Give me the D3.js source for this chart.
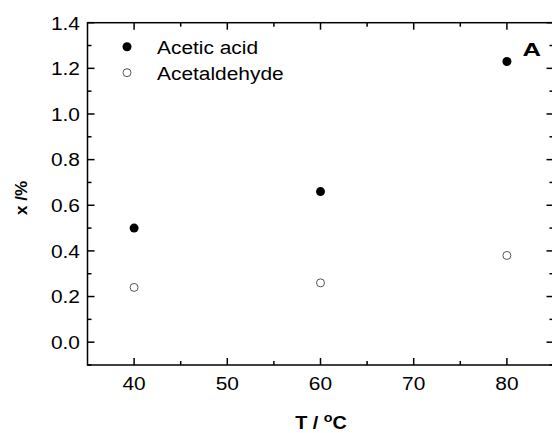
<!DOCTYPE html>
<html><head><meta charset="utf-8">
<script src="https://cdn.jsdelivr.net/npm/d3@7"></script>
<style>body{margin:0;background:#fff}svg{display:block;font-family:Arial,"Liberation Sans",sans-serif}</style>
</head><body><svg id="c" width="552" height="433"></svg>
<script>
const temps = [40, 60, 80];
const aceticAcid = [0.50, 0.66, 1.23];
const acetaldehyde = [0.24, 0.26, 0.38];
const xTicks = [40, 50, 60, 70, 80];
const yTicks = [0.0, 0.2, 0.4, 0.6, 0.8, 1.0, 1.2, 1.4];
const seriesNames = ["Acetic acid", "Acetaldehyde"];

const svg = d3.select("#c");
const x = d3.scaleLinear().domain([35, 85]).range([87.5, 553.5]);
const y = d3.scaleLinear().domain([-0.1, 1.4]).range([365, 22.7]);
const L = x.range()[0], R = x.range()[1], T = y.range()[1], B = y.range()[0];
const SX = 1.1;

function label(parent, tx, ty, txt, opts) {
  const gg = parent.append("g").attr("transform", `translate(${tx},${ty}) scale(${opts.sx || SX},1)`);
  const t = gg.append("text").attr("font-size", opts.size).attr("text-anchor", opts.anchor || "start")
    .attr("font-weight", opts.weight || "normal");
  if (opts.dy) t.attr("dy", opts.dy);
  t.text(txt);
  return t;
}

const xMinor = d3.range(45, 85, 10);
const yMinor = d3.range(-0.1, 1.4, 0.2).map(v => +v.toFixed(2));
const g = svg.append("g").attr("stroke", "#000").attr("stroke-width", 1.5);
g.append("rect").attr("x", L).attr("y", T).attr("width", R - L).attr("height", B - T).attr("fill", "none");
xTicks.forEach(v => {
  g.append("line").attr("x1", x(v)).attr("x2", x(v)).attr("y1", B).attr("y2", B - 7);
  g.append("line").attr("x1", x(v)).attr("x2", x(v)).attr("y1", T).attr("y2", T + 7);
});
xMinor.forEach(v => {
  g.append("line").attr("x1", x(v)).attr("x2", x(v)).attr("y1", B).attr("y2", B - 4);
  g.append("line").attr("x1", x(v)).attr("x2", x(v)).attr("y1", T).attr("y2", T + 4);
});
yTicks.forEach(v => {
  g.append("line").attr("y1", y(v)).attr("y2", y(v)).attr("x1", L).attr("x2", L + 7);
  g.append("line").attr("y1", y(v)).attr("y2", y(v)).attr("x1", R).attr("x2", R - 7);
});
yMinor.forEach(v => {
  g.append("line").attr("y1", y(v)).attr("y2", y(v)).attr("x1", L).attr("x2", L + 4);
  g.append("line").attr("y1", y(v)).attr("y2", y(v)).attr("x1", R).attr("x2", R - 4);
});

const tl = svg.append("g");
yTicks.forEach(v => label(tl, 80, y(v), d3.format(".1f")(v), {size: 19, anchor: "end", dy: "0.36em"}));
xTicks.forEach(v => label(tl, x(v), 390, String(v), {size: 19, anchor: "middle"}));

// axis titles
svg.append("text").attr("transform", "translate(27,198) rotate(-90)")
  .attr("text-anchor", "middle").attr("font-size", 17).attr("font-weight", "bold").text("x /%");
const xg = svg.append("g").attr("transform", `translate(321,429) scale(${SX},1)`);
const xt = xg.append("text").attr("text-anchor", "middle").attr("font-size", 18).attr("font-weight", "bold");
xt.append("tspan").text("T / ");
xt.append("tspan").attr("font-size", 13).attr("dy", -7).text("o");
xt.append("tspan").attr("dy", 7).text("C");

// data
svg.append("g").selectAll("circle").data(temps).join("circle")
  .attr("cx", d => x(d)).attr("cy", (d, i) => y(aceticAcid[i])).attr("r", 4.5).attr("fill", "#000");
svg.append("g").selectAll("circle").data(temps).join("circle")
  .attr("cx", d => x(d)).attr("cy", (d, i) => y(acetaldehyde[i])).attr("r", 4)
  .attr("fill", "#fff").attr("stroke", "#555").attr("stroke-width", 1);

// legend
svg.append("circle").attr("cx", 127).attr("cy", 46.7).attr("r", 4.5).attr("fill", "#000");
svg.append("circle").attr("cx", 127).attr("cy", 72.7).attr("r", 4).attr("fill", "#fff").attr("stroke", "#555");
label(svg, 157, 54, seriesNames[0], {size: 19});
label(svg, 157, 80, seriesNames[1], {size: 19});

// panel label
label(svg, 531.7, 56, "A", {size: 19, anchor: "middle", weight: "bold", sx: 1.35});
</script></body></html>
